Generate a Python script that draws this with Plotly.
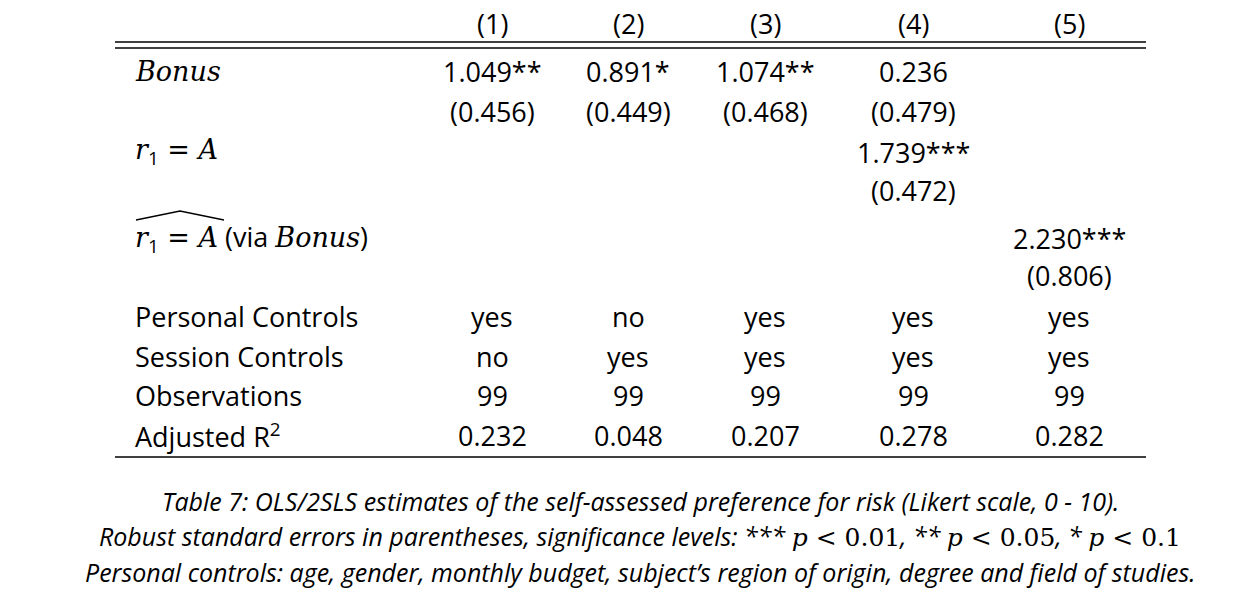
import plotly.graph_objects as go

W, H = 1256, 594
OFF = 8  # page body margin compensation

columns = ['(1)', '(2)', '(3)', '(4)', '(5)']
bonus_coef = ['1.049**', '0.891*', '1.074**', '0.236', '']
bonus_se = ['(0.456)', '(0.449)', '(0.468)', '(0.479)', '']
r1_coef = ['', '', '', '1.739***', '']
r1_se = ['', '', '', '(0.472)', '']
r1hat_coef = ['', '', '', '', '2.230***']
r1hat_se = ['', '', '', '', '(0.806)']
personal_controls = ['yes', 'no', 'yes', 'yes', 'yes']
session_controls = ['no', 'yes', 'yes', 'yes', 'yes']
observations = ['99', '99', '99', '99', '99']
adj_r2 = ['0.232', '0.048', '0.207', '0.278', '0.282']

SANS = 'Open Sans'
SERIF = 'DejaVu Serif'


def m(s):
    # math italic piece
    return f'<span style="font-family:{SERIF}"><i>{s}</i></span>'


eq = f'<span style="font-family:{SERIF}"> = </span>'
row_labels = [
    m('Bonus'), '', m('r') + '<sub>1</sub>' + eq + m('A'), '',
    m('r') + '<sub>1</sub>' + eq + m('A') + ' (via ' + m('Bonus') + ')', '',
    'Personal Controls', 'Session Controls', 'Observations', 'Adjusted R<sup>2</sup>',
]
rows = [bonus_coef, bonus_se, r1_coef, r1_se, r1hat_coef, r1hat_se,
        personal_controls, session_controls, observations, adj_r2]
row_y = [72, 111, 152, 190, 238, 276, 316, 356, 395, 435]
col_x = [492, 628, 765, 913, 1069]

fig = go.Figure()


def px(x):
    return (x - OFF) / W


def py(y):
    return 1 - (y - OFF) / H


def add_text(x, y, text, anchor='center', size=27):
    fig.add_annotation(x=px(x), y=py(y), xref='paper', yref='paper', text=text,
                       showarrow=False, xanchor=anchor, yanchor='middle',
                       font=dict(family=SANS, size=size, color='black'))


for c, lab in zip(col_x, columns):
    add_text(c, 24, lab)

for lab, vals, y in zip(row_labels, rows, row_y):
    if lab:
        add_text(133, y, lab, anchor='left')
    for c, v in zip(col_x, vals):
        if v:
            add_text(c, y, v)

# rules
for y in [42, 48, 457]:
    fig.add_shape(type='line', xref='paper', yref='paper', x0=px(115), x1=px(1146),
                  y0=py(y), y1=py(y), line=dict(color='black', width=1.3))
# wide hat over r1 = A
fig.add_shape(type='path', xref='paper', yref='paper',
              path=f'M {px(136)} {py(220)} L {px(180)} {py(211)} L {px(224)} {py(220)}',
              line=dict(color='black', width=1.3))

caption = [
    '<i>Table 7: OLS/2SLS estimates of the self-assessed preference for risk (Likert scale, 0 - 10).</i>',
    '<i>Robust standard errors in parentheses, significance levels: *** </i>' + m('p') +
    f'<span style="font-family:{SERIF}"> &lt; 0.01</span><i>, ** </i>' + m('p') +
    f'<span style="font-family:{SERIF}"> &lt; 0.05</span><i>, * </i>' + m('p') +
    f'<span style="font-family:{SERIF}"> &lt; 0.1</span>',
    '<i>Personal controls: age, gender, monthly budget, subject\u2019s region of origin, degree and field of studies.</i>',
]
for y, t in zip([501, 536, 572], caption):
    add_text(640, y, t, size=25)

fig.update_xaxes(visible=False, range=[0, 1])
fig.update_yaxes(visible=False, range=[0, 1])
fig.update_layout(width=W, height=H, margin=dict(l=0, r=0, t=0, b=0),
                  paper_bgcolor='white', plot_bgcolor='white', showlegend=False)
fig.write_html('out.html')
